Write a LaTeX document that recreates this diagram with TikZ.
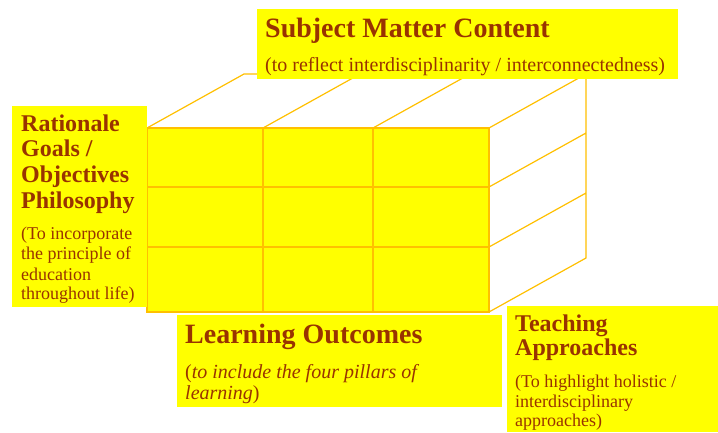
\documentclass[tikz,border=0pt]{standalone}
\usepackage{fontspec}
\setmainfont{Liberation Serif}
\definecolor{boxyellow}{HTML}{FFFF00}
\definecolor{cubeline}{HTML}{FFC000}
\definecolor{txtbrown}{HTML}{993300}
\tikzset{
  labelbox/.style={draw=none, fill=boxyellow, inner sep=0pt, anchor=north west},
  cubeedge/.style={draw=cubeline, line width=1.2pt},
  txt/.style={anchor=base west, inner sep=0pt, text=txtbrown},
  bigtitle/.style={txt, font=\bfseries\fontsize{28}{30}\selectfont},
  midtitle/.style={txt, font=\bfseries\fontsize{24}{26}\selectfont},
  bigsub/.style={txt, font=\fontsize{20}{22}\selectfont},
  midsub/.style={txt, font=\fontsize{18}{20}\selectfont},
}
\begin{document}
\begin{tikzpicture}[x=1pt, y=-1pt]
\path[use as bounding box, fill=white] (0,0) rectangle (718,432);
% cube coordinates
\coordinate (f00) at (147,128); \coordinate (f10) at (263,128);
\coordinate (f20) at (373,128); \coordinate (f30) at (489,128);
\coordinate (f31) at (489,187); \coordinate (f32) at (489,247);
\coordinate (f33) at (489,312); \coordinate (f03) at (147,312);
\coordinate (b00) at (244,74); \coordinate (b10) at (360,74);
\coordinate (b20) at (470,74); \coordinate (b30) at (586,74);
\coordinate (b31) at (586,133); \coordinate (b32) at (586,193);
\coordinate (b33) at (586,258);
% front face
\fill[boxyellow] (f00) rectangle (f33);
\draw[cubeedge] (f00) rectangle (f33);
\draw[cubeedge] (263,128) -- (263,312) (373,128) -- (373,312)
  (147,187) -- (489,187) (147,247) -- (489,247);
% top face
\draw[cubeedge] (f00) -- (b00) -- (b30) (f10) -- (b10) (f20) -- (b20) (f30) -- (b30);
% right face
\draw[cubeedge] (b30) -- (b33) -- (f33) (f31) -- (b31) (f32) -- (b32);

% label boxes
\node[labelbox, minimum width=421pt, minimum height=70pt] (topbox) at (257,9) {};
\node[labelbox, minimum width=135pt, minimum height=201pt] (leftbox) at (12,106) {};
\node[labelbox, minimum width=325pt, minimum height=92pt] (botbox) at (177,315) {};
\node[labelbox, minimum width=211pt, minimum height=126pt] (rightbox) at (507,306) {};

% top texts
\node[bigtitle] (t1) at (265,37) {Subject Matter Content};
\node[bigsub] (t2) at (265,71) {(to reflect interdisciplinarity / interconnectedness)};
% left texts
\node[midtitle] (l1) at (21,131) {Rationale};
\node[midtitle] (l2) at (21,156) {Goals /};
\node[midtitle] (l3) at (21,182) {Objectives};
\node[midtitle] (l4) at (21,208) {Philosophy};
\node[midsub] (l5) at (21,239) {(To incorporate};
\node[midsub] (l6) at (21,259) {the principle of};
\node[midsub] (l7) at (21,280) {education};
\node[midsub] (l8) at (21,299) {throughout life)};
% bottom texts
\node[bigtitle] (o1) at (185,343) {Learning Outcomes};
\node[bigsub] (o2) at (185,378) {(\textit{to include the four pillars of}};
\node[bigsub] (o3) at (185,399) {\textit{learning})};
% right texts
\node[midtitle] (r1) at (515,331) {Teaching};
\node[midtitle] (r2) at (515,355) {Approaches};
\node[midsub] (r3) at (515,387) {(To highlight holistic /};
\node[midsub] (r4) at (515,407) {interdisciplinary};
\node[midsub] (r5) at (515,426) {approaches)};
\end{tikzpicture}
\end{document}
